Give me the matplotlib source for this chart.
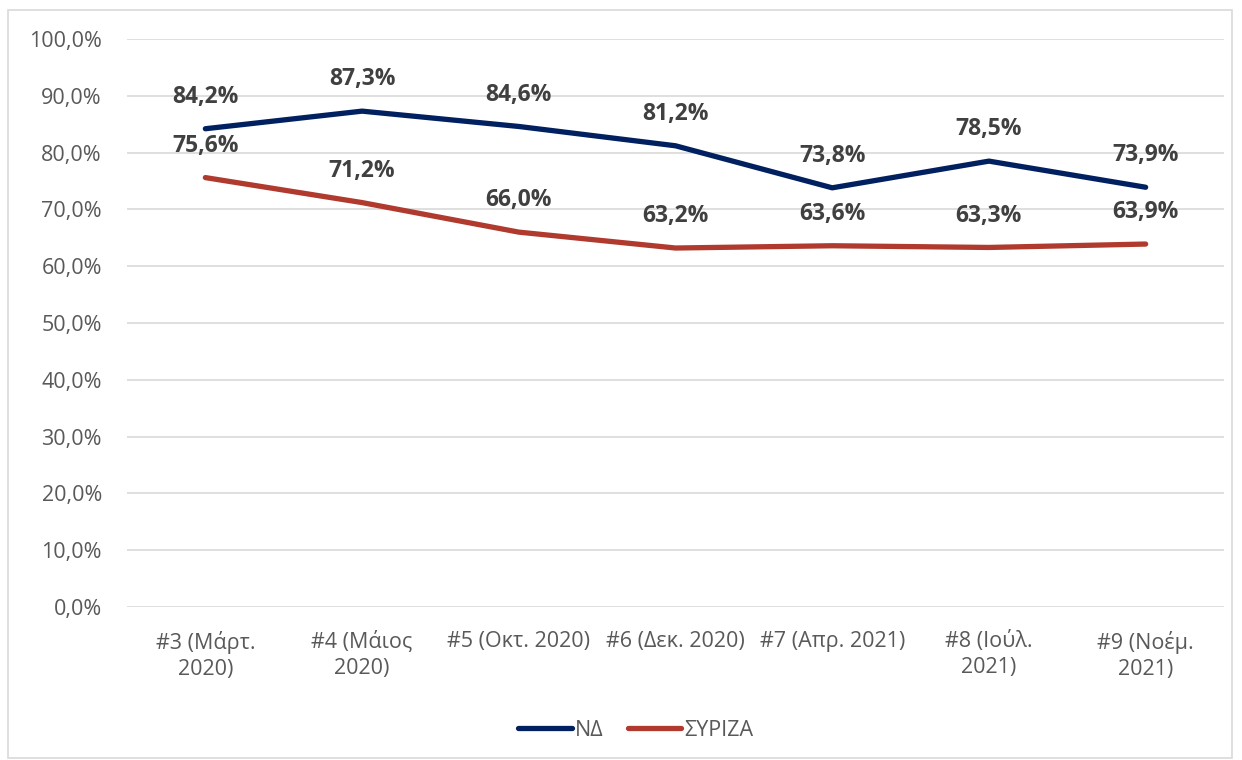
import matplotlib.pyplot as plt
from matplotlib.patches import Rectangle
from matplotlib.ticker import FuncFormatter

plt.rcParams['font.family'] = ['Open Sans', 'DejaVu Sans']

categories = ['#3 (Μάρτ.\n2020)', '#4 (Μάιος\n2020)', '#5 (Οκτ. 2020)', '#6 (Δεκ. 2020)',
              '#7 (Απρ. 2021)', '#8 (Ιούλ.\n2021)', '#9 (Νοέμ.\n2021)']
nd = [84.2, 87.3, 84.6, 81.2, 73.8, 78.5, 73.9]
syriza = [75.6, 71.2, 66.0, 63.2, 63.6, 63.3, 63.9]

nd_color = '#002060'
syriza_color = '#B03A2E'
text_color = '#595959'
label_color = '#404040'

fig = plt.figure(figsize=(12.42, 7.6), dpi=100)
ax = fig.add_axes([127 / 1242, 1 - 607 / 760, 1097 / 1242, 568 / 760])

# outer chart border
fig.patches.append(Rectangle((8 / 1242, 2 / 760), 1224 / 1242, 748 / 760,
                             transform=fig.transFigure, fill=False,
                             edgecolor='#D9D9D9', linewidth=1.2))

x = list(range(len(categories)))
ax.plot(x, nd, color=nd_color, linewidth=3.8, label='ΝΔ', solid_capstyle='round')
ax.plot(x, syriza, color=syriza_color, linewidth=3.8, label='ΣΥΡΙΖΑ', solid_capstyle='round')

for series in (nd, syriza):
    for xi, v in zip(x, series):
        ax.annotate(f'{v:.1f}%'.replace('.', ','), (xi, v), xytext=(0, 23),
                    textcoords='offset points', ha='center', va='center',
                    fontsize=16.5, fontweight='bold', color=label_color)

ax.set_xlim(-0.5, len(categories) - 0.5)
ax.set_ylim(0, 100)
ax.set_yticks(range(0, 101, 10))
ax.yaxis.set_major_formatter(FuncFormatter(lambda v, p: f'{v:.1f}%'.replace('.', ',')))
ax.set_xticks(x)
ax.set_xticklabels(categories, linespacing=1.35)
ax.tick_params(axis='both', length=0, labelsize=15.5, colors=text_color)
ax.tick_params(axis='x', pad=17)
ax.tick_params(axis='y', pad=18)
ax.grid(axis='y', color='#D9D9D9', linewidth=1.2)
ax.set_axisbelow(True)
for s in ax.spines.values():
    s.set_visible(False)

leg = fig.legend(loc='center', bbox_to_anchor=(636 / 1242, 1 - 730 / 760), ncol=2,
                 frameon=False, fontsize=15.5, handlelength=2.5, handletextpad=0.15,
                 columnspacing=1.1)
for t in leg.get_texts():
    t.set_color(text_color)

fig.savefig('out.png', dpi=100)
